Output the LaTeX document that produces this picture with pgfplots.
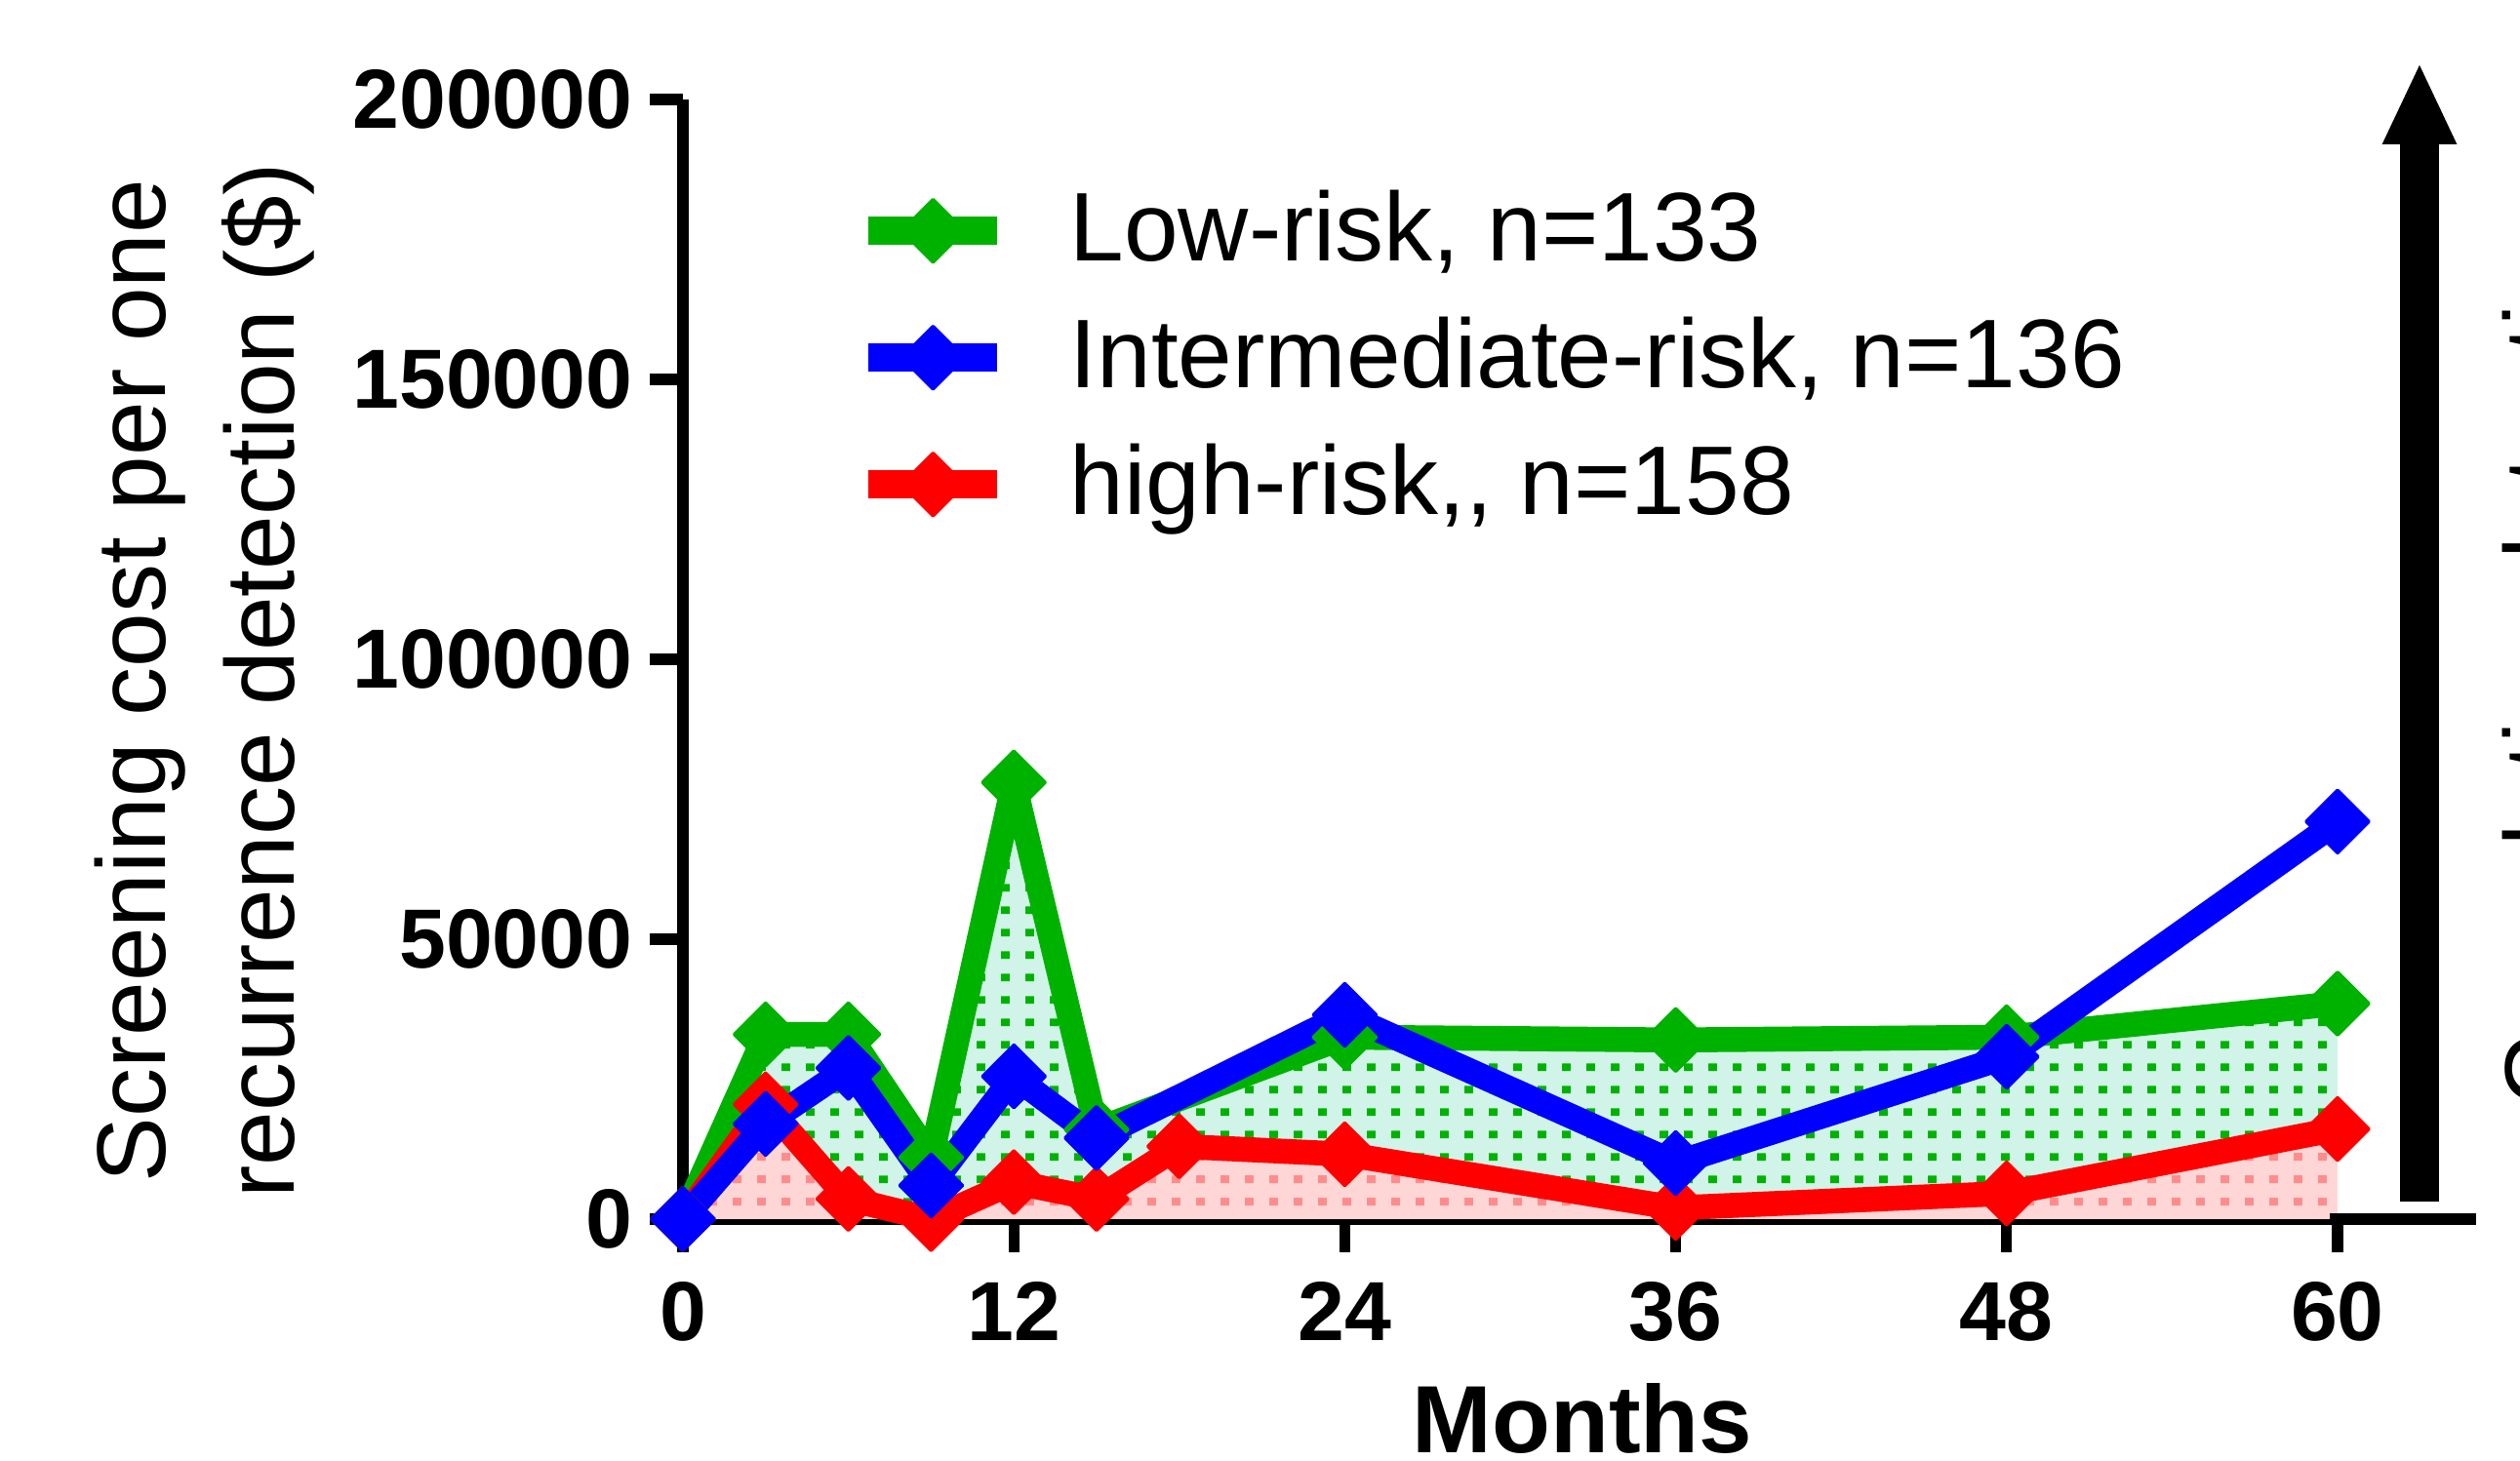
\documentclass[border=0pt]{standalone}
\usepackage{fontspec}
\setmainfont{Liberation Sans}
\usepackage{pgfplots}
\pgfplotsset{compat=1.18}
\usetikzlibrary{patterns}

\pgfdeclarepatternformonly{gdots}{\pgfpointorigin}{\pgfpoint{3.1pt}{2.9pt}}{\pgfpoint{3.1pt}{2.9pt}}{%
  \pgfpathrectangle{\pgfpoint{0.9pt}{0.9pt}}{\pgfpoint{1.1pt}{1.0pt}}\pgfusepath{fill}}

\definecolor{lgreen}{RGB}{0,178,0}
\definecolor{mint}{RGB}{208,245,232}
\definecolor{pinkf}{RGB}{255,214,214}
\definecolor{pdot}{RGB}{255,140,140}

\pgfplotstableread{
x y
0 0
3 33000
6 33000
9 11000
12 78000
15 16000
24 32500
36 32000
48 32500
60 38500
}\lowrisk
\pgfplotstableread{
x y
0 0
3 17000
6 27000
9 6000
12 25500
15 14500
24 36500
36 10000
48 29000
60 71000
}\intrisk
\pgfplotstableread{
x y
0 0
3 20500
6 3600
9 0
12 6600
15 3600
18 13000
24 11600
36 2000
48 4600
60 16100
}\highrisk

\begin{document}
\begin{tikzpicture}
\begin{axis}[
  at={(0,0)}, anchor=south west,
  scale only axis, width=212pt, height=143.5pt,
  xmin=0, xmax=60, ymin=0, ymax=200000,
  axis x line*=bottom, axis y line*=left,
  axis line style={line width=1.6pt},
  xtick={0,12,24,36,48,60},
  ytick={0,50000,100000,150000,200000},
  tick align=outside, major tick length=4.2pt,
  tick style={line width=1.4pt, black},
  scaled y ticks=false,
  /pgf/number format/fixed,
  /pgf/number format/1000 sep={},
  /pgf/number format/assume math mode=true,
  ticklabel style={font=\fontsize{10.75}{12}\selectfont\bfseries, inner sep=0pt},
  yticklabel style={anchor=east, xshift=-2.05pt},
  xticklabel style={anchor=north, yshift=-3.7pt},
  clip=false,
  legend style={draw=none, fill=none, at={(axis description cs:0.1028,0.9237)}, anchor=north west,
    font=\fontsize{12.5}{14}\selectfont, row sep=4.05pt, column sep=7.5pt, inner sep=0pt,
    nodes={inner sep=0pt, text height=9.5pt, text depth=2.7pt}},
  legend cell align=left,
  legend image code/.code={%
    \draw[#1, line width=3.6pt, mark repeat=2, mark phase=2]
      plot coordinates {(0pt,0.4pt) (8.25pt,0.4pt) (16.5pt,0.4pt)};},
  every axis plot/.append style={line width=3.2pt, line join=round},
]
% fills
\addplot[draw=none, fill=mint, forget plot] table {\lowrisk} \closedcycle;
\addplot[draw=none, pattern=gdots, pattern color=lgreen, forget plot] table {\lowrisk} \closedcycle;
\addplot[draw=none, fill=pinkf, forget plot] table {\highrisk} \closedcycle;
\addplot[draw=none, pattern=gdots, pattern color=pdot, forget plot] table {\highrisk} \closedcycle;
% lines
\addplot[lgreen, mark=square*, mark size=2.85pt, mark options={rotate=45, line width=0.4pt}, forget plot] table {\lowrisk};
\addplot[red, mark=square*, mark size=2.85pt, mark options={rotate=45, line width=0.4pt}, forget plot] table {\highrisk};
\addplot[blue, mark=square*, mark size=2.85pt, mark options={rotate=45, line width=0.4pt}, forget plot] table {\intrisk};
% legend
\addlegendimage{lgreen, mark=square*, mark size=2.85pt, mark options={rotate=45, line width=0.4pt}}
\addlegendentry{Low-risk, n=133}
\addlegendimage{blue, mark=square*, mark size=2.85pt, mark options={rotate=45, line width=0.4pt}}
\addlegendentry{Intermediate-risk, n=136}
\addlegendimage{red, mark=square*, mark size=2.85pt, mark options={rotate=45, line width=0.4pt}}
\addlegendentry{high-risk,\hbox{,} n=158}
\end{axis}
% x-axis line extension beyond 60
\draw[line width=1.6pt] (211pt,0) -- (229.75pt,0);
% vertical arrow on the right
\fill (220pt,2.25pt) rectangle (225pt,138pt);
\fill (217.7pt,137.75pt) -- (227.3pt,137.75pt) -- (222.5pt,147.9pt) -- cycle;
% axis titles
\node[anchor=base, inner sep=0pt, font=\fontsize{12.25}{14}\selectfont\bfseries] at (115.25pt,-30pt) {Months};
\node[rotate=90, align=center, inner sep=0pt, font=\fontsize{12.5}{16.5}\selectfont] at (-61.25pt,69pt)
  {Screening cost per one\\recurrence detection (\$)};
% partly visible text at right edge
\node[rotate=90, anchor=base west, inner sep=0pt, font=\fontsize{12.5}{14}\selectfont] at (242.2pt,14.25pt) {Cumulative detection};
\pgfresetboundingbox
\path[use as bounding box] (-87.5pt,-31pt) rectangle (235.375pt,156.25pt);
\end{tikzpicture}
\end{document}
